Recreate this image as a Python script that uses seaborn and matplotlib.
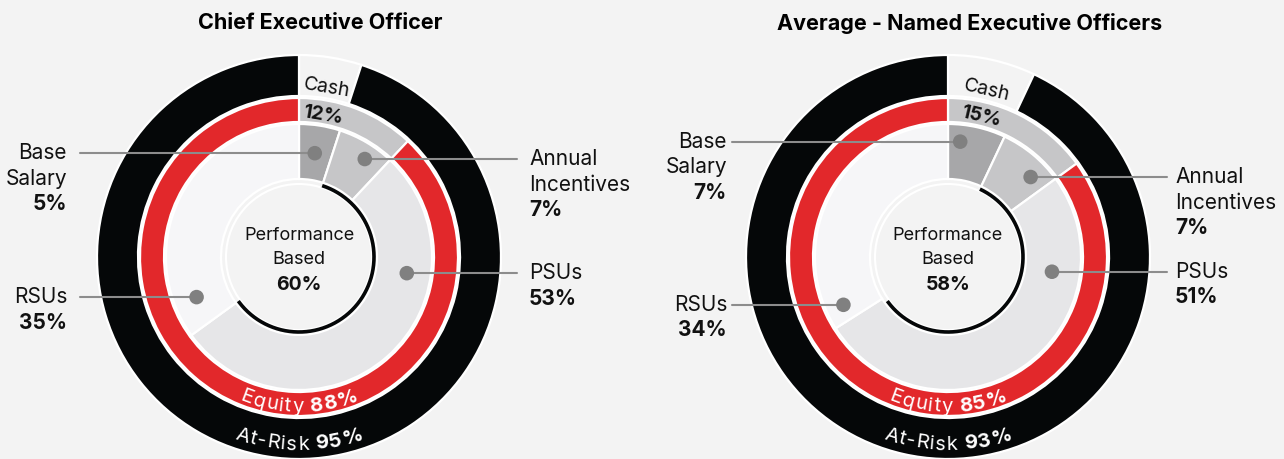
import numpy as np
import matplotlib
matplotlib.use("Agg")
import matplotlib.pyplot as plt
import seaborn as sns

W, H = 1284, 459

# ---- data ----
titles = ["Chief Executive Officer", "Average - Named Executive Officers"]
component_names = [["Base", "Salary"], ["Annual", "Incentives"], ["PSUs"], ["RSUs"]]
ceo_mix = [5, 7, 53, 35]          # base salary, annual incentives, PSUs, RSUs
neo_mix = [7, 8, 51, 34]
ceo_mix_labels = ["5%", "7%", "53%", "35%"]
neo_mix_labels = ["7%", "7%", "51%", "34%"]
cash_pct = [12, 15]
equity_pct = [88, 85]
at_risk_pct = [95, 93]
perf_pct = [60, 58]

# ---- styling ----
sns.set_theme(style="white")
plt.rcParams["font.family"] = ["Inter", "DejaVu Sans"]

BG = "#f3f3f3"
BLACK = "#050708"
RED = "#e2282b"
SHADES = ["#a7a7a9", "#c6c6c8", "#e6e6e8", "#f6f6f8"]
CASH_GREY = "#c6c6c8"
LINE = "#8c8c8c"
DOT = "#808080"
TXT = "#111111"

# layout of each panel (pixels)
panels = [
    dict(x0=0, x1=642, cx=299, cy=257, title_dx=21,
         dot_frac=[0.48, 0.63, 0.29, 0.116], dot_r=[105, 118, 109, 110],
         lab_left=-232, lab_right=230, line_left=-219, line_right=218),
    dict(x0=642, x1=1284, cx=948, cy=257, title_dx=22,
         dot_frac=[0.24, 0.72, 0.24, 0.064], dot_r=[116, 115, 105, 115],
         lab_left=-221, lab_right=227, line_left=-216, line_right=219),
]
sides = ["left", "right", "right", "left"]

fig = plt.figure(figsize=(W / 100, H / 100), dpi=100, facecolor=BG)
renderer = fig.canvas.get_renderer()

edge = dict(edgecolor="white", linewidth=1.6)


def ring_text(ax, parts, r_base, size):
    """Write text along the bottom of a circle, centred on 6 o'clock."""
    chars = [(ch, wt) for s, wt in parts for ch in s]
    px = size * 100 / 72
    widths = []
    for ch, wt in chars:
        if ch == " ":
            widths.append(px * 0.27)
            continue
        t = ax.text(0, 0, ch, fontsize=size, fontweight=wt)
        widths.append(t.get_window_extent(renderer).width + 0.8)
        t.remove()
    r_eff = r_base - px * 0.35
    total = sum(widths)
    theta0 = -np.pi / 2 - total / (2 * r_eff)
    cum = 0
    for (ch, wt), w in zip(chars, widths):
        th = theta0 + (cum + w / 2) / r_eff
        cum += w
        if ch == " ":
            continue
        ax.text(r_base * np.cos(th), r_base * np.sin(th), ch, fontsize=size,
                fontweight=wt, color="white", ha="center", va="baseline",
                rotation=np.degrees(th) + 90, rotation_mode="anchor", zorder=6)


def wedge_point(mix, i, frac, r):
    total = sum(mix)
    a = (sum(mix[:i]) + frac * mix[i]) / total * 360
    return r * np.sin(np.radians(a)), r * np.cos(np.radians(a))


mixes = [ceo_mix, neo_mix]
mix_labels = [ceo_mix_labels, neo_mix_labels]

for k, p in enumerate(panels):
    ax = fig.add_axes([p["x0"] / W, 0, (p["x1"] - p["x0"]) / W, 1])
    ax.set_facecolor(BG)
    mix = mixes[k]

    # outer ring: base salary (not at risk) vs at-risk
    ax.pie([100 - at_risk_pct[k], at_risk_pct[k]], radius=202, colors=[BG, BLACK],
           startangle=90, counterclock=False, wedgeprops=dict(width=41, **edge))
    # middle ring: cash vs equity
    ax.pie([cash_pct[k], equity_pct[k]], radius=159, colors=[CASH_GREY, RED],
           startangle=90, counterclock=False, wedgeprops=dict(width=24, **edge))
    # inner ring: the four components
    ax.pie(mix, radius=133, colors=SHADES, startangle=90, counterclock=False,
           wedgeprops=dict(width=55, **edge))

    # centre disc
    ax.add_patch(plt.Circle((0, 0), 73, facecolor=BG, edgecolor="white", lw=1.5, zorder=3))

    # performance based arc: annual incentives + PSUs
    a0 = mix[0] / sum(mix) * 360
    a1 = a0 + perf_pct[k] * 3.6
    ang = np.radians(np.linspace(a0, a1, 200))
    ax.plot(75 * np.sin(ang), 75 * np.cos(ang), color=BLACK, lw=2.6,
            solid_capstyle="butt", zorder=4)

    ax.text(0, 21, "Performance", ha="center", va="center", fontsize=13, color=TXT, zorder=5)
    ax.text(0, -3, "Based", ha="center", va="center", fontsize=13, color=TXT, zorder=5)
    ax.text(0, -28, f"{perf_pct[k]}%", ha="center", va="center", fontsize=14,
            fontweight="bold", color=TXT, zorder=5)

    # cash labels at the middle of the base salary slice of the outer ring
    ca = (100 - at_risk_pct[k]) * 3.6 / 2 + 0.5
    for r, s, wt in [(171, "Cash", "normal"), (144, f"{cash_pct[k]}%", "bold")]:
        ax.text(r * np.sin(np.radians(ca)), r * np.cos(np.radians(ca)), s,
                ha="center", va="center", fontsize=14, fontweight=wt, color=TXT,
                rotation=-ca, rotation_mode="anchor", zorder=6)

    # curved ring labels
    ring_text(ax, [("Equity ", "normal"), (f"{equity_pct[k]}%", "bold")], 155, 14.5)
    ring_text(ax, [("At-Risk ", "normal"), (f"{at_risk_pct[k]}%", "bold")], 193, 14.5)

    # callouts
    dots = [wedge_point(mix, i, p["dot_frac"][i], p["dot_r"][i]) for i in range(4)]
    for i, (dx, dy) in enumerate(dots):
        if sides[i] == "left":
            ax.plot([p["line_left"], dx], [dy, dy], color=LINE, lw=1.5, zorder=7)
            tx, ha = p["lab_left"], "right"
        else:
            ax.plot([dx, p["line_right"]], [dy, dy], color=LINE, lw=1.5, zorder=7)
            tx, ha = p["lab_right"], "left"
        lines = [(n, "normal") for n in component_names[i]] + [(mix_labels[k][i], "bold")]
        for j, (s, wt) in enumerate(lines):
            ax.text(tx, dy - 25.5 * j, s, ha=ha, va="center", fontsize=15,
                    fontweight=wt, color=TXT)
    sns.scatterplot(x=[d[0] for d in dots], y=[d[1] for d in dots], ax=ax, s=110,
                    color=DOT, edgecolor="none", zorder=8, legend=False)

    ax.text(p["title_dx"], p["cy"] - 23, titles[k], ha="center", va="center",
            fontsize=15.5, fontweight="bold", color="black")

    ax.set_xlim(p["x0"] - p["cx"], p["x1"] - p["cx"])
    ax.set_ylim(p["cy"] - H, p["cy"])
    ax.set_aspect("auto")
    ax.axis("off")

fig.savefig("out.png", dpi=100, facecolor=BG)
